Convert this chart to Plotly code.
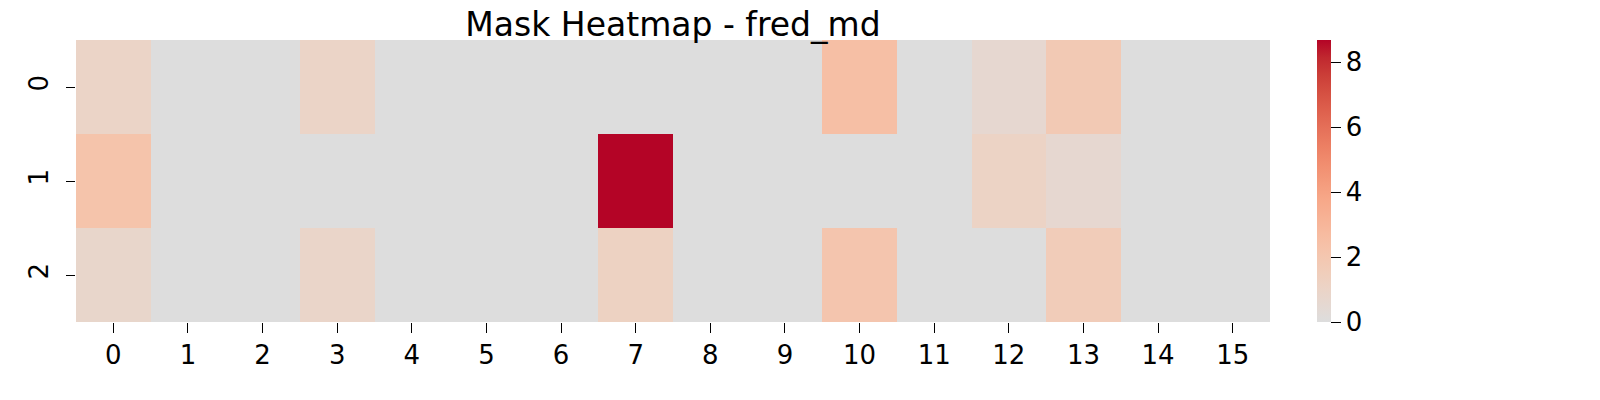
import plotly.graph_objects as go

# Mask values per row (rows 0..2, columns 0..15)
row_0 = [1.0, 0, 0, 1.0, 0, 0, 0, 0, 0, 0, 2.5, 0, 0.6, 1.8, 0, 0]
row_1 = [2.2, 0, 0, 0, 0, 0, 0, 8.68, 0, 0, 0, 0, 1.1, 0.6, 0, 0]
row_2 = [0.8, 0, 0, 0.9, 0, 0, 0, 1.2, 0, 0, 2.1, 0, 0, 1.6, 0, 0]
row_labels = ["0", "1", "2"]
col_labels = [str(i) for i in range(16)]
colorbar_ticks = [0, 2, 4, 6, 8]

z = [row_0, row_1, row_2]
vmax = max(max(r) for r in z)

# upper half of matplotlib coolwarm (seaborn center=0 clips to data range)
coolwarm_upper = [
    "#dddddd", "#e5d8d1", "#ecd3c5", "#f1ccb8", "#f5c4ac", "#f7bba0",
    "#f7b194", "#f7a788", "#f49a7b", "#f18d6f", "#ec7f63", "#e57059",
    "#de604d", "#d55042", "#cb3e38", "#c0282f", "#b40426",
]
colorscale = [[i / (len(coolwarm_upper) - 1), c] for i, c in enumerate(coolwarm_upper)]

font = "DejaVu Sans"
tick_font = dict(family=font, size=26, color="black")

fig = go.Figure(go.Heatmap(
    z=z,
    x=col_labels,
    y=row_labels,
    zmin=0,
    zmax=vmax,
    colorscale=colorscale,
    colorbar=dict(
        x=1.0394, xanchor="left", xref="paper", xpad=0,
        y=0.5, yanchor="middle", len=1.0, lenmode="fraction", ypad=0,
        thickness=14, outlinewidth=0,
        tickvals=colorbar_ticks,
        ticks="outside", ticklen=10, tickwidth=1.3, tickcolor="black",
        tickfont=tick_font,
    ),
))

fig.update_xaxes(
    type="category",
    ticks="outside", ticklen=10, tickwidth=1.3, tickcolor="black",
    tickfont=tick_font,
    showgrid=False, zeroline=False, showline=False,
)
fig.update_yaxes(
    type="category",
    autorange="reversed",
    ticks="outside", ticklen=9, tickwidth=1.3, tickcolor="black",
    tickangle=-90, ticklabelstandoff=8,
    tickfont=tick_font,
    showgrid=False, zeroline=False, showline=False,
)

# page body adds an 8px offset, so margins are shifted to compensate
fig.update_layout(
    width=1600, height=400,
    margin=dict(l=68, r=338, t=32, b=86),
    paper_bgcolor="white", plot_bgcolor="white",
    title=dict(
        text="Mask Heatmap - fred_md",
        x=0.5, xref="paper", xanchor="center",
        y=1, yref="paper", yanchor="bottom",
        pad=dict(b=4),
        font=dict(family=font, size=33, color="black"),
    ),
)

fig.write_html("out.html")
